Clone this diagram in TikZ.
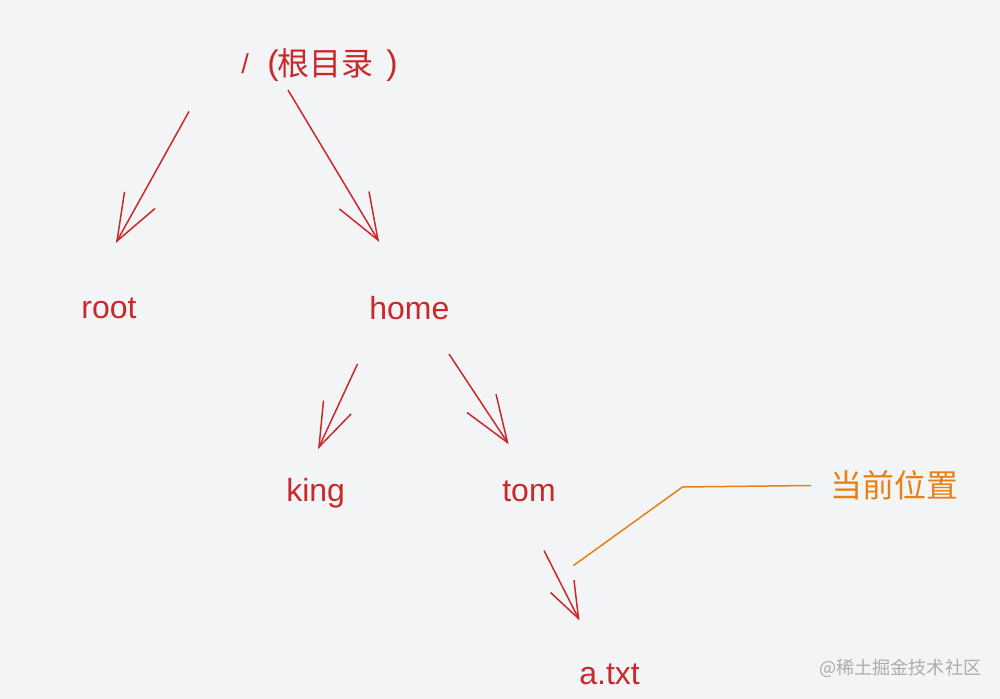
\documentclass[tikz,border=0pt]{standalone}
\usepackage{fontspec}
\setmainfont{Liberation Sans}
\newfontfamily\cjk{Noto Sans CJK SC}
\definecolor{bgc}{RGB}{243,244,246}
\definecolor{redc}{RGB}{202,40,42}
\definecolor{orgc}{RGB}{232,128,18}
\definecolor{wmc}{RGB}{172,172,172}
\begin{document}
\begin{tikzpicture}[x=0.02cm,y=-0.02cm,
  lbl/.style={text=redc,inner sep=0pt,anchor=base west,font=\fontsize{18.2pt}{20pt}\selectfont},
  arr/.style={draw=redc,line width=0.85pt},
  pointer/.style={draw=orgc,line width=0.85pt}]
\fill[bgc] (0,0) rectangle (1000,699);
\useasboundingbox (0,0) rectangle (1000,699);
% top label "/ (根目录)"
\node[lbl,font=\fontsize{15.5pt}{17pt}\selectfont] (slash) at (241,74) {/};
\node[lbl,font=\fontsize{19.4pt}{21pt}\selectfont] (lpar) at (267,75) {(};
\node[lbl,font=\cjk\fontsize{18.2pt}{20pt}\selectfont] (rootcn) at (277,76) {根目录};
\node[lbl,font=\fontsize{19.4pt}{21pt}\selectfont] (rpar) at (386,75) {)};
% labels
\node[lbl] (root) at (81,318) {root};
\node[lbl] (home) at (369,319) {home};
\node[lbl] (king) at (286,501) {king};
\node[lbl] (tom) at (502,501) {tom};
\node[lbl] (atxt) at (579,684) {a.txt};
\node[text=orgc,inner sep=0pt,anchor=west,font=\cjk\fontsize{18.2pt}{20pt}\selectfont] (cur) at (830,485) {当前位置};
\node[text=wmc,inner sep=0pt,anchor=west,font=\cjk\fontsize{10.3pt}{12pt}\selectfont] (wm) at (819,668) {@稀土掘金技术社区};
% arrow 1: / -> root
\coordinate (s1) at (189,111.5); \coordinate (t1) at (117,241);
\coordinate (a1) at (124.5,192); \coordinate (c1) at (155,208.5);
% arrow 2: / -> home
\coordinate (s2) at (288,90); \coordinate (t2) at (378,240);
\coordinate (a2) at (369,191.5); \coordinate (c2) at (339.5,209);
% arrow 3: home -> king
\coordinate (s3) at (357.5,364); \coordinate (t3) at (319,447);
\coordinate (a3) at (323.5,400.5); \coordinate (c3) at (351,414);
% arrow 4: home -> tom
\coordinate (s4) at (449,354); \coordinate (t4) at (507.5,442.5);
\coordinate (a4) at (496,394); \coordinate (c4) at (467,412.5);
% arrow 5: tom -> a.txt
\coordinate (s5) at (544,550.5); \coordinate (t5) at (578.5,618.5);
\coordinate (a5) at (574,580); \coordinate (c5) at (550.5,592.5);
\foreach \i in {1,...,5}{
  \draw[arr] (s\i) -- (t\i);
  \draw[arr] (a\i) -- (t\i) -- (c\i);
}
% pointer
\coordinate (p0) at (573.5,565.5);
\coordinate (p1) at (682.5,487);
\coordinate (p2) at (811,485.5);
\draw[pointer] (p0) -- (p1) -- (p2);
\end{tikzpicture}
\end{document}
